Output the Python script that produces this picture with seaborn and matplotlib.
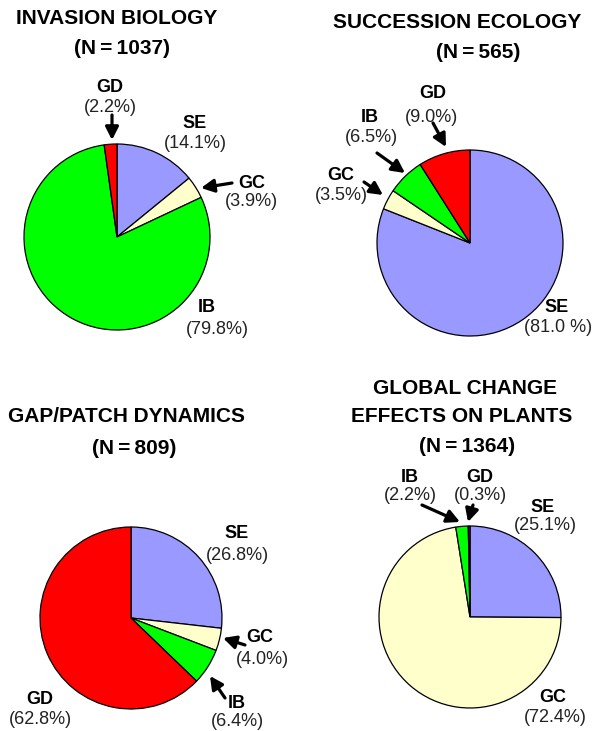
import matplotlib
matplotlib.use("Agg")
import matplotlib.pyplot as plt
import seaborn as sns

# ---------------- data ----------------
categories = ["SE", "GC", "IB", "GD"]
titles = ["INVASION BIOLOGY", "SUCCESSION ECOLOGY", "GAP/PATCH DYNAMICS",
          "GLOBAL CHANGE\nEFFECTS ON PLANTS"]
n_values = [1037, 565, 809, 1364]
invasion = [14.1, 3.9, 79.8, 2.2]
succession = [81.0, 3.5, 6.5, 9.0]
gap_patch = [26.8, 4.0, 6.4, 62.8]
global_change = [25.1, 72.4, 2.2, 0.3]
panels = [invasion, succession, gap_patch, global_change]
pct_overrides = {(1, "SE"): "(81.0 %)"}

# ---------------- style ----------------
sns.set_theme(style="white")
plt.rcParams["font.family"] = ["Liberation Sans", "DejaVu Sans"]
colors = {"SE": "#9999FF", "GC": "#FFFFCC", "IB": "#00FF00", "GD": "#FF0000"}

W, H = 598, 731
fig = plt.figure(figsize=(W / 100, H / 100), dpi=100)
fig.patch.set_facecolor("white")

# pie geometry in pixels: center x, center y, radius
pie_geo = [(117, 237, 93), (470, 243, 93), (131, 618, 91), (470, 617, 91)]
# title lines: (x, y) per line
title_pos = [
    [(117, 19), (122, 48)],
    [(457, 22), (478, 53)],
    [(127, 417), (134, 448)],
    [(465, 388), (462, 417), (467, 447)],
]
# label positions: category -> (x, y of bold name), (x, y of pct)
label_pos = [
    {"GD": ((110, 87), (110, 107)), "SE": ((195, 123), (195, 143)),
     "GC": ((252, 183), (251, 201)), "IB": ((207, 308), (217, 330))},
    {"GD": ((433, 93), (432, 117)), "IB": ((370, 118), (371, 137)),
     "GC": ((341, 175), (341, 195)), "SE": ((557, 308), (558, 328))},
    {"SE": ((237, 534), (237, 555)), "GC": ((260, 637), (262, 659)),
     "IB": ((237, 703), (237, 722)), "GD": ((40, 700), (40, 720))},
    {"IB": ((410, 477), (410, 495)), "GD": ((480, 477), (480, 495)),
     "SE": ((543, 507), (545, 525)), "GC": ((553, 698), (555, 717))},
]
arrows = [
    [((112, 115), (112, 140)), ((232, 183), (201, 188))],
    [((433, 123), (446, 147)), ((377, 153), (405, 173)), ((364, 182), (383, 195))],
    [((245, 645), (223, 638)), ((225, 698), (210, 676))],
    [((422, 505), (460, 522)), ((473, 505), (468, 522))],
]

pad = 1.04
for vals, (cx, cy, r) in zip(panels, pie_geo):
    rr = r * pad
    ax = fig.add_axes([(cx - rr) / W, (H - cy - rr) / H, 2 * rr / W, 2 * rr / H])
    ax.pie(vals, colors=[colors[c] for c in categories], startangle=90,
           counterclock=False,
           wedgeprops=dict(edgecolor="black", linewidth=0.9))
    ax.set_xlim(-pad, pad)
    ax.set_ylim(-pad, pad)
    ax.set_aspect("auto")
    ax.axis("off")

ov = fig.add_axes([0, 0, 1, 1], zorder=10)
ov.set_xlim(0, W)
ov.set_ylim(H, 0)
ov.axis("off")
ov.patch.set_alpha(0)

for i, (title, n) in enumerate(zip(titles, n_values)):
    lines = title.split("\n") + [f"(N\u2009=\u2009{n})"]
    for line, (x, y) in zip(lines, title_pos[i]):
        ov.text(x, y, line, ha="center", va="center", fontsize=15,
                fontweight="bold", color="black")
    for cat, val in zip(categories, panels[i]):
        (nx, ny), (px, py) = label_pos[i][cat]
        ov.text(nx, ny, cat, ha="center", va="center", fontsize=13,
                fontweight="bold", color="black")
        pct = pct_overrides.get((i, cat), f"({val:.1f}%)")
        ov.text(px, py, pct, ha="center", va="center", fontsize=13,
                color="#222222")
    for tail, head in arrows[i]:
        ov.annotate("", xy=head, xytext=tail,
                    arrowprops=dict(arrowstyle="-|>,head_length=0.55,head_width=0.28",
                                    lw=2.3, color="black", shrinkA=0, shrinkB=0,
                                    mutation_scale=14))

fig.savefig("out.png", dpi=100)
